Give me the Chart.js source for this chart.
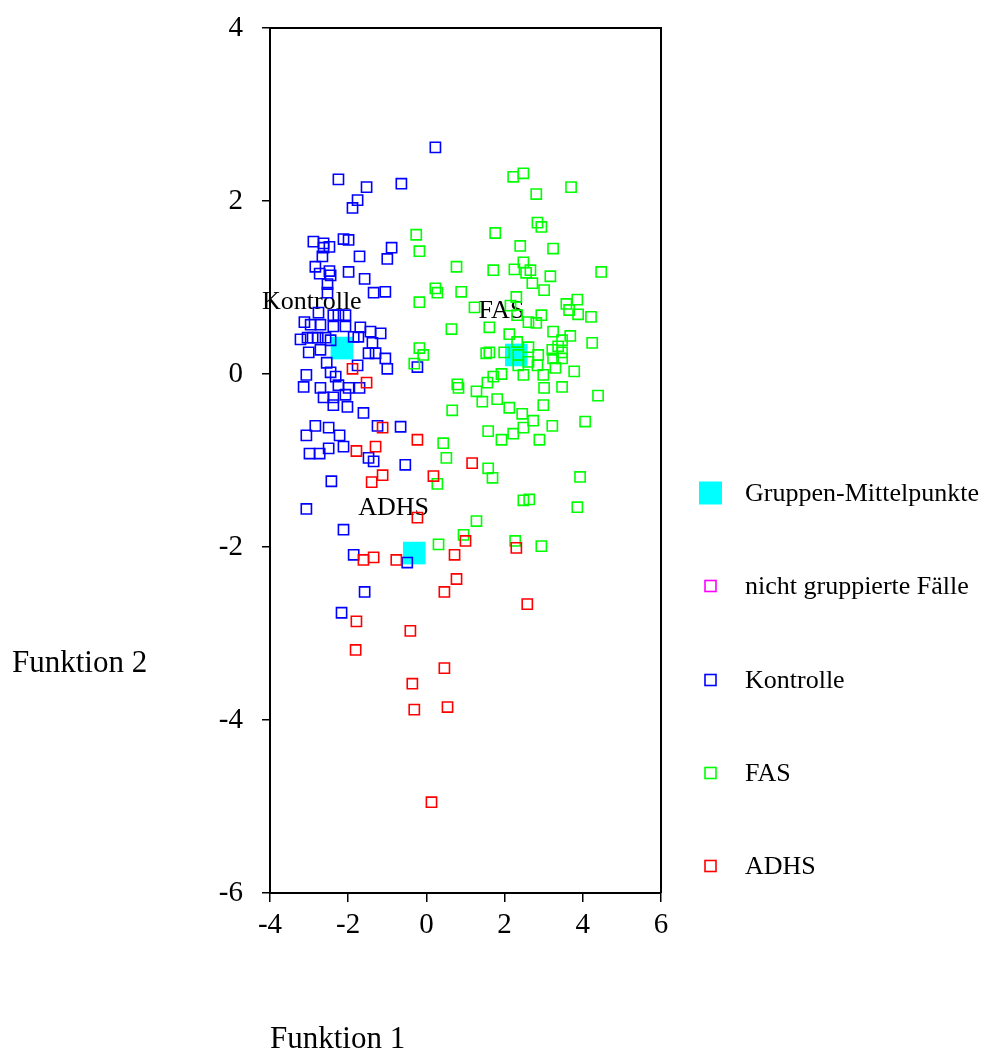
<!DOCTYPE html>
<html>
<head>
<meta charset="utf-8">
<script src="https://cdn.jsdelivr.net/npm/chart.js@4.4.1/dist/chart.umd.min.js"></script>
<style>
  html, body { margin: 0; padding: 0; background: #ffffff; }
  #wrap { position: relative; width: 988px; height: 1052px; }
</style>
</head>
<body>
<div id="wrap"><canvas id="plot" width="988" height="1052"></canvas></div>
<script>
// Discriminant function scores (Funktion 1, Funktion 2) per group
const kontrolleX = [0.23,-2.25,-1.53,-0.64,-1.76,-1.89,-2.89,-2.63,-2.48,-2.63,
  -2.12,-1.99,-0.89,-2.66,-1.71,-1.00,-2.84,-2.73,-2.48,-2.45,
  -1.99,-1.58,-2.53,-1.35,-1.05,-2.53,-2.76,-2.38,-2.25,-2.07,
  -3.12,-2.96,-2.71,-2.38,-2.07,-1.69,-1.43,-1.17,-3.22,-3.04,
  -2.91,-2.78,-2.58,-2.45,-1.86,-1.74,-3.01,-2.71,-1.38,-1.48,
  -1.30,-1.05,-2.55,-1.00,-0.23,-1.76,-3.07,-2.45,-2.32,-3.14,
  -2.71,-2.25,-1.99,-1.71,-2.63,-2.38,-2.07,-2.38,-2.02,-1.61,
  -2.84,-2.50,-3.07,-2.22,-1.25,-0.66,-2.50,-2.12,-2.99,-2.73,
  -1.48,-1.35,-0.54,-2.43,-3.07,-2.12,-1.86,-0.49,-1.58,-2.17];
const kontrolleY = [2.62,2.25,2.16,2.20,2.01,1.92,1.53,1.51,1.47,1.46,
  1.56,1.55,1.46,1.36,1.36,1.33,1.24,1.16,1.19,1.14,
  1.18,1.10,1.04,0.94,0.95,0.94,0.71,0.68,0.68,0.68,
  0.60,0.57,0.57,0.55,0.55,0.54,0.49,0.47,0.40,0.42,
  0.42,0.42,0.42,0.39,0.43,0.43,0.25,0.28,0.36,0.24,
  0.24,0.18,0.13,0.06,0.08,0.10,-0.01,0.02,-0.03,-0.15,
  -0.16,-0.13,-0.16,-0.16,-0.27,-0.27,-0.24,-0.36,-0.38,-0.45,
  -0.60,-0.62,-0.71,-0.71,-0.60,-0.61,-0.86,-0.84,-0.92,-0.92,
  -0.97,-1.01,-1.05,-1.24,-1.56,-1.80,-2.09,-2.18,-2.52,-2.76];

const fasX = [2.22,2.48,2.81,3.70,-0.26,1.76,-0.18,2.84,2.94,2.40,
  3.24,0.77,1.71,2.25,2.48,2.66,2.55,2.71,3.17,4.47,
  3.01,0.23,0.28,0.89,-0.18,1.23,2.30,2.15,3.58,3.86,
  3.65,3.88,4.21,2.94,2.61,2.81,2.32,0.64,1.61,2.12,
  2.32,3.24,3.68,4.24,3.47,3.37,3.22,3.47,1.53,1.61,
  1.99,2.35,2.61,2.86,2.61,2.84,2.35,3.24,3.47,3.30,
  2.48,2.99,3.78,1.71,1.92,0.79,0.82,1.56,1.28,3.01,
  3.47,4.39,1.43,1.81,2.12,0.66,2.99,2.45,2.73,3.22,
  4.06,1.58,2.22,2.48,1.92,2.89,0.43,0.51,1.58,1.69,
  3.93,2.48,2.63,3.86,1.28,0.95,0.31,2.27,2.94,-0.18,
  -0.08,-0.31,0.28];
const fasY = [2.28,2.32,2.08,2.16,1.61,1.63,1.42,1.75,1.70,1.48,
  1.45,1.24,1.20,1.21,1.29,1.20,1.17,1.05,1.13,1.18,
  0.97,0.99,0.94,0.95,0.83,0.77,0.89,0.79,0.81,0.86,
  0.74,0.69,0.66,0.68,0.60,0.59,0.68,0.52,0.54,0.46,
  0.37,0.49,0.44,0.36,0.39,0.32,0.28,0.25,0.24,0.25,
  0.25,0.22,0.31,0.22,0.14,0.10,0.10,0.18,0.18,0.07,
  -0.01,-0.01,0.03,-0.03,0.00,-0.12,-0.16,-0.10,-0.20,-0.16,
  -0.15,-0.25,-0.32,-0.29,-0.39,-0.42,-0.36,-0.46,-0.54,-0.60,
  -0.55,-0.66,-0.69,-0.62,-0.76,-0.76,-0.80,-0.97,-1.09,-1.20,
  -1.19,-1.46,-1.45,-1.54,-1.70,-1.86,-1.97,-1.93,-1.99,0.30,
  0.22,0.12,-1.27];

const adhsX = [-1.89,-1.53,-1.12,-0.23,-1.79,-1.30,1.17,-1.12,-1.40,0.18,
  -0.23,1.00,0.72,-1.61,-1.35,-0.77,0.77,0.46,-1.79,-0.41,
  -1.81,0.46,-0.36,-0.31,0.54,0.13,2.30,2.58];
const adhsY = [0.06,-0.10,-0.62,-0.76,-0.89,-0.84,-1.03,-1.17,-1.25,-1.18,
  -1.66,-1.93,-2.09,-2.15,-2.12,-2.15,-2.37,-2.52,-2.86,-2.97,
  -3.19,-3.40,-3.58,-3.88,-3.85,-4.95,-2.01,-2.66];

// Group centroids, in the order Kontrolle, FAS, ADHS
const groupNames = ['Kontrolle', 'FAS', 'ADHS'];
const centroidX = [-2.16, 2.30, -0.31];
const centroidY = [0.30, 0.22, -2.07];
// Where each group's name is written inside the plot
const groupLabelX = [-2.93, 1.92, -0.84];
const groupLabelY = [0.83, 0.73, -1.55];

const xTicks = [-4, -2, 0, 2, 4, 6];
const yTicks = [-6, -4, -2, 0, 2, 4];

const legendLabels = ['Gruppen-Mittelpunkte', 'nicht gruppierte Fälle', 'Kontrolle', 'FAS', 'ADHS'];
const legendColors = ['#00ffff', '#ff00ff', '#0000ff', '#00ff00', '#ff0000'];

const SERIF = '"Liberation Serif", "Times New Roman", serif';

function toPoints(xs, ys) {
  return xs.map((x, i) => ({ x: x, y: ys[i] }));
}

function caseSet(label, xs, ys, color) {
  return {
    label: label,
    data: toPoints(xs, ys),
    pointStyle: 'rect',
    pointRadius: 7.2,
    pointHoverRadius: 7.2,
    borderWidth: 1.6,
    borderColor: color,
    backgroundColor: 'rgba(0,0,0,0)'
  };
}

// Frame, axis titles, group names and the legend block
const decorations = {
  id: 'decorations',
  beforeDatasetsDraw(chart) {
    const ctx = chart.ctx;
    const xs = chart.scales.x, ys = chart.scales.y;
    ctx.save();
    ctx.fillStyle = '#000';
    ctx.font = '26px ' + SERIF;
    ctx.textAlign = 'center';
    ctx.textBaseline = 'middle';
    groupNames.forEach((name, i) => {
      ctx.fillText(name, xs.getPixelForValue(groupLabelX[i]), ys.getPixelForValue(groupLabelY[i]));
    });
    ctx.restore();
  },
  afterDraw(chart) {
    const ctx = chart.ctx;
    const a = chart.chartArea;
    ctx.save();
    // top and right sides of the frame
    ctx.strokeStyle = '#000';
    ctx.lineWidth = 2;
    ctx.beginPath();
    ctx.moveTo(a.left, a.top);
    ctx.lineTo(a.right, a.top);
    ctx.lineTo(a.right, a.bottom);
    ctx.stroke();

    // axis titles
    ctx.fillStyle = '#000';
    ctx.font = '31px ' + SERIF;
    ctx.textAlign = 'left';
    ctx.textBaseline = 'middle';
    ctx.fillText('Funktion 2', 12, 664);
    ctx.fillText('Funktion 1', 270, 1040);

    // legend
    const rowY = [493, 586, 680, 773, 866];
    ctx.font = '26px ' + SERIF;
    legendLabels.forEach((text, i) => {
      const cy = rowY[i];
      if (i === 0) {
        ctx.fillStyle = legendColors[i];
        ctx.fillRect(699, cy - 11.5, 23, 23);
      } else {
        ctx.strokeStyle = legendColors[i];
        ctx.lineWidth = 1.6;
        ctx.strokeRect(705, cy - 5.5, 11, 11);
      }
      ctx.fillStyle = '#000';
      ctx.fillText(text, 745, cy + 1);
    });
    ctx.restore();
  }
};

new Chart(document.getElementById('plot'), {
  type: 'scatter',
  data: {
    datasets: [
      caseSet('ADHS', adhsX, adhsY, '#ff0000'),
      caseSet('FAS', fasX, fasY, '#00ff00'),
      caseSet('Kontrolle', kontrolleX, kontrolleY, '#0000ff'),
      caseSet('nicht gruppierte Fälle', [], [], '#ff00ff'),
      {
        label: 'Gruppen-Mittelpunkte',
        data: toPoints(centroidX, centroidY),
        pointStyle: 'rect',
        pointRadius: 16,
        pointHoverRadius: 16,
        borderWidth: 0,
        borderColor: '#00ffff',
        backgroundColor: '#00ffff'
      }
    ]
  },
  options: {
    responsive: false,
    animation: false,
    events: [],
    layout: { padding: { left: 0, top: 28, right: 327, bottom: 99 } },
    plugins: {
      legend: { display: false },
      tooltip: { enabled: false }
    },
    scales: {
      x: {
        type: 'linear',
        min: -4, max: 6,
        afterFit(scale) {
          scale.height = 60;
          scale.paddingLeft = 0; scale.paddingRight = 0;
        },
        afterBuildTicks(scale) { scale.ticks = xTicks.map(v => ({ value: v })); },
        grid: { drawOnChartArea: false, drawTicks: true, tickLength: 9, color: '#000', lineWidth: 1.5 },
        border: { display: true, color: '#000', width: 2 },
        ticks: { color: '#000', padding: 6, font: { family: SERIF, size: 29 } }
      },
      y: {
        type: 'linear',
        min: -6, max: 4,
        afterFit(scale) {
          scale.width = 270;
          scale.paddingTop = 0; scale.paddingBottom = 0;
        },
        afterBuildTicks(scale) { scale.ticks = yTicks.map(v => ({ value: v })); },
        grid: { drawOnChartArea: false, drawTicks: true, tickLength: 8, color: '#000', lineWidth: 1.5 },
        border: { display: true, color: '#000', width: 2 },
        ticks: { color: '#000', padding: 19, font: { family: SERIF, size: 29 } }
      }
    }
  },
  plugins: [decorations]
});
</script>
</body>
</html>
